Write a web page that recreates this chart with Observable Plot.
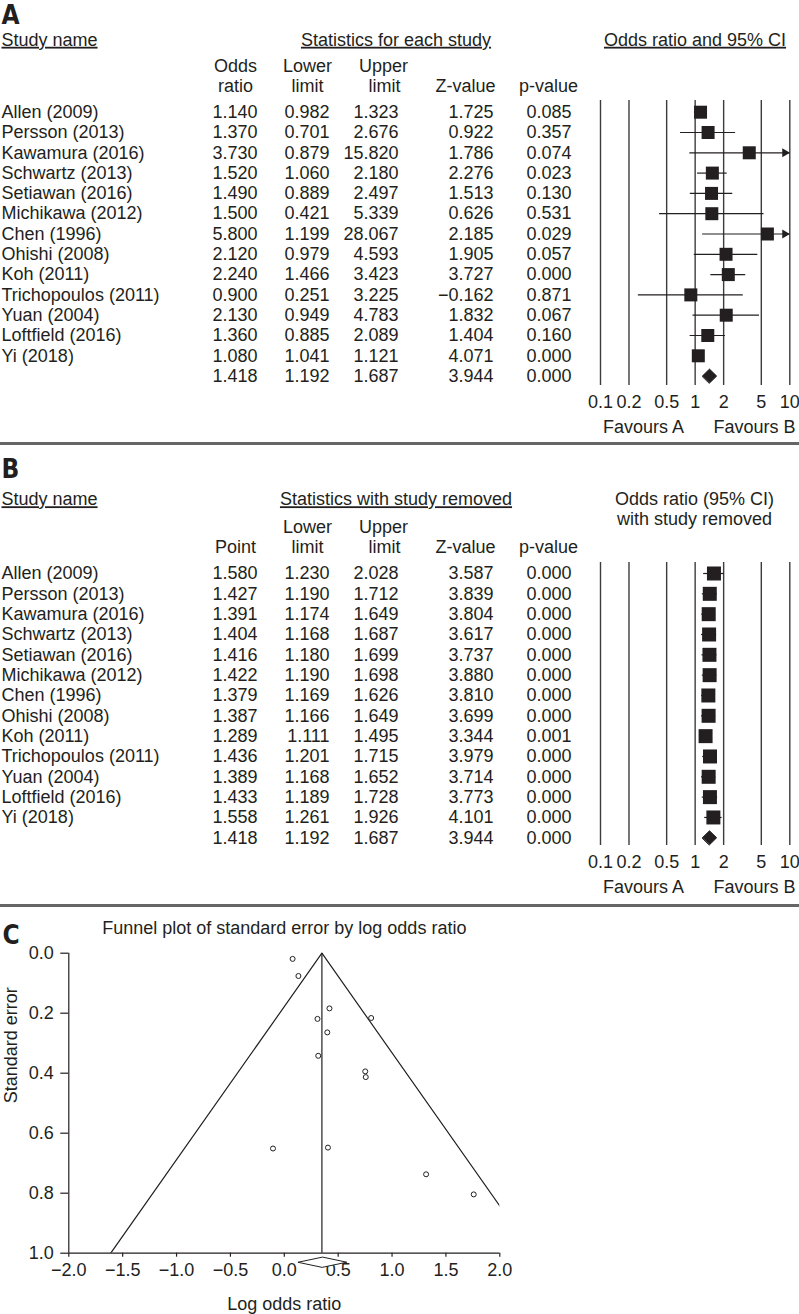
<!DOCTYPE html>
<html>
<head>
<meta charset="utf-8">
<script src="https://cdn.jsdelivr.net/npm/d3@7"></script>
<script src="https://cdn.jsdelivr.net/npm/@observablehq/plot@0.6"></script>
<style>
  body { margin: 0; background: #fff; }
  #fig { width: 799px; }
  .divider { height: 3px; background: #666; }
  svg { display: block; }
</style>
</head>
<body>
<div id="fig"></div>
<script>
// ---------------- DATA ----------------
const studies = ["Allen (2009)", "Persson (2013)", "Kawamura (2016)", "Schwartz (2013)", "Setiawan (2016)",
  "Michikawa (2012)", "Chen (1996)", "Ohishi (2008)", "Koh (2011)", "Trichopoulos (2011)",
  "Yuan (2004)", "Loftfield (2016)", "Yi (2018)"];

// Panel A: statistics for each study
const oddsA  = [1.140, 1.370, 3.730, 1.520, 1.490, 1.500, 5.800, 2.120, 2.240, 0.900, 2.130, 1.360, 1.080];
const lowerA = [0.982, 0.701, 0.879, 1.060, 0.889, 0.421, 1.199, 0.979, 1.466, 0.251, 0.949, 0.885, 1.041];
const upperA = [1.323, 2.676, 15.820, 2.180, 2.497, 5.339, 28.067, 4.593, 3.423, 3.225, 4.783, 2.089, 1.121];
const zA     = [1.725, 0.922, 1.786, 2.276, 1.513, 0.626, 2.185, 1.905, 3.727, -0.162, 1.832, 1.404, 4.071];
const pA     = [0.085, 0.357, 0.074, 0.023, 0.130, 0.531, 0.029, 0.057, 0.000, 0.871, 0.067, 0.160, 0.000];
const pooledA = [1.418, 1.192, 1.687, 3.944, 0.000];

// Panel B: statistics with study removed
const pointB = [1.580, 1.427, 1.391, 1.404, 1.416, 1.422, 1.379, 1.387, 1.289, 1.436, 1.389, 1.433, 1.558];
const lowerB = [1.230, 1.190, 1.174, 1.168, 1.180, 1.190, 1.169, 1.166, 1.111, 1.201, 1.168, 1.189, 1.261];
const upperB = [2.028, 1.712, 1.649, 1.687, 1.699, 1.698, 1.626, 1.649, 1.495, 1.715, 1.652, 1.728, 1.926];
const zB     = [3.587, 3.839, 3.804, 3.617, 3.737, 3.880, 3.810, 3.699, 3.344, 3.979, 3.714, 3.773, 4.101];
const pB     = [0.000, 0.000, 0.000, 0.000, 0.000, 0.000, 0.000, 0.000, 0.001, 0.000, 0.000, 0.000, 0.000];
const pooledB = [1.418, 1.192, 1.687, 3.944, 0.000];

const orTicks = [0.1, 0.2, 0.5, 1, 2, 5, 10];

// Panel C: funnel plot
const logOR = [0.131, 0.315, 1.316, 0.419, 0.399, 0.405, 1.758, 0.751, 0.806, -0.105, 0.756, 0.308, 0.077];
const stdErr = [0.076, 0.342, 0.737, 0.184, 0.264, 0.648, 0.804, 0.394, 0.216, 0.651, 0.413, 0.219, 0.019];
const pooledLogOR = 0.349;
const funnelLeft  = [{x: 0.349, y: 0}, {x: -1.611, y: 1}];
const funnelRight = [{x: 0.349, y: 0}, {x: 2.309, y: 1}];
const pooledDiamondC = [{x: 0.13, y: 1.03}, {x: 0.355, y: 1.013}, {x: 0.58, y: 1.03}, {x: 0.355, y: 1.047}];
const seTicks = [0, 0.2, 0.4, 0.6, 0.8, 1.0];
const lorTicks = [-2, -1.5, -1, -0.5, 0, 0.5, 1, 1.5, 2];

// ---------------- STYLE / LAYOUT ----------------
const INK = "#231f20";
const GRID = "#3c3c3c";
const FONT = "'Liberation Sans', Arial, Helvetica, sans-serif";
const NARROW = "'Liberation Sans Narrow', 'DejaVu Sans Condensed', 'Liberation Sans', sans-serif";
const FS = 18;
const LETTER_FS = 26;
const f3 = d3.format(".3f");
const f1 = d3.format(".1f");
const underlined = new Set(["Study name", "Statistics for each study", "Odds ratio and 95% CI", "Statistics with study removed"]);

const COLS = [
  {key: "est", right: 257},
  {key: "lo", right: 329},
  {key: "hi", right: 398},
  {key: "z", right: 493},
  {key: "p", right: 571}
];

function forest(cfg) {
  const {height, row0, rowH} = cfg;
  const row = px => (px - row0) / rowH;
  const n = cfg.names.length;
  const rows = cfg.names.map((name, i) => ({i, name, est: cfg.est[i], lo: cfg.lo[i], hi: cfg.hi[i], z: cfg.z[i], p: cfg.p[i]}));
  const pooled = {i: n, name: "", est: cfg.sum[0], lo: cfg.sum[1], hi: cfg.sum[2], z: cfg.sum[3], p: cfg.sum[4]};
  const table = [...rows, pooled];
  const marks = [];
  marks.push(Plot.text([cfg.letter], {text: d => d, y: row(cfg.letterY), frameAnchor: "left", textAnchor: "start",
    lineAnchor: "middle", dx: 1, fontSize: LETTER_FS, fontWeight: "bold", fontFamily: NARROW}));
  marks.push(Plot.text(rows, {text: "name", y: "i", frameAnchor: "left", textAnchor: "start", lineAnchor: "middle", dx: 1, fontSize: FS}));
  for (const c of COLS) {
    marks.push(Plot.text(table, {text: d => f3(d[c.key]), y: "i", frameAnchor: "left", textAnchor: "end", lineAnchor: "middle", dx: c.right, fontSize: FS}));
  }
  for (const h of cfg.headers) {
    marks.push(Plot.text([h.t], {text: d => d, y: row(h.y), frameAnchor: "left", textAnchor: h.a || "middle", lineAnchor: "middle", dx: h.x, fontSize: FS}));
  }
  marks.push(Plot.ruleX(orTicks, {x: d => d, y1: row(cfg.gridTop), y2: row(cfg.gridBottom), stroke: GRID, strokeWidth: 1.4}));
  marks.push(Plot.text(orTicks, {x: d => d, y: row(cfg.tickY), text: d => String(d), lineAnchor: "middle", fontSize: FS}));
  marks.push(Plot.ruleY(rows, {y: "i", x1: "lo", x2: d => Math.min(d.hi, 10), stroke: INK, strokeWidth: 1.2}));
  marks.push(Plot.dot(rows.filter(d => d.hi > 10), {x: () => 10, y: "i", symbol: "triangle", rotate: 90, r: 3.3, fill: INK, dx: -5}));
  marks.push(Plot.dot(rows, {x: "est", y: "i", symbol: "square", r: cfg.side / Math.sqrt(Math.PI), fill: INK}));
  const half = cfg.diamondHalf / rowH;
  marks.push(Plot.line([
      {x: pooled.lo, y: n}, {x: pooled.est, y: n - half}, {x: pooled.hi, y: n}, {x: pooled.est, y: n + half}
    ], {x: "x", y: "y", curve: "linear-closed", fill: INK, stroke: INK, strokeWidth: 1}));

  return Plot.plot({
    width: 799, height,
    marginTop: 0, marginRight: 0, marginBottom: 0, marginLeft: 0,
    style: {fontFamily: FONT, color: INK, background: "#fff", overflow: "visible"},
    x: {type: "log", domain: [0.1, 10], range: [600, 789.3], axis: null},
    y: {type: "linear", domain: [row(0), row(height)], range: [0, height], axis: null},
    marks
  });
}

const panelA = forest({
  letter: "A", height: 442, row0: 111.7, rowH: 20.3,
  names: studies, est: oddsA, lo: lowerA, hi: upperA, z: zA, p: pA, sum: pooledA,
  letterY: 15.2, gridTop: 100, gridBottom: 385, tickY: 401.7, side: 13, diamondHalf: 7,
  headers: [
    {t: "Study name", x: 1, y: 39.5, a: "start"},
    {t: "Statistics for each study", x: 395.5, y: 39.5},
    {t: "Odds ratio and 95% CI", x: 694.5, y: 39.5},
    {t: "Odds", x: 235, y: 65.3}, {t: "ratio", x: 235, y: 85.3},
    {t: "Lower", x: 307, y: 65.3}, {t: "limit", x: 307, y: 85.3},
    {t: "Upper", x: 383, y: 65.3}, {t: "limit", x: 384, y: 85.3},
    {t: "Z-value", x: 465, y: 85.3}, {t: "p-value", x: 548, y: 85.3},
    {t: "Favours A", x: 643, y: 426.7}, {t: "Favours B", x: 754, y: 426.7}
  ]
});

const panelB = forest({
  letter: "B", height: 459, row0: 128, rowH: 20.33,
  names: studies, est: pointB, lo: lowerB, hi: upperB, z: zB, p: pB, sum: pooledB,
  letterY: 24, gridTop: 117, gridBottom: 400, tickY: 416.7, side: 14, diamondHalf: 7,
  headers: [
    {t: "Study name", x: 1, y: 54, a: "start"},
    {t: "Statistics with study removed", x: 395.5, y: 54},
    {t: "Odds ratio (95% CI)", x: 694, y: 54},
    {t: "with study removed", x: 694, y: 74},
    {t: "Lower", x: 307, y: 82}, {t: "Upper", x: 383, y: 82},
    {t: "Point", x: 235, y: 101.5}, {t: "limit", x: 307, y: 101.5}, {t: "limit", x: 384, y: 101.5},
    {t: "Z-value", x: 465, y: 101.5}, {t: "p-value", x: 548, y: 101.5},
    {t: "Favours A", x: 643, y: 441.7}, {t: "Favours B", x: 754, y: 441.7}
  ]
});

const funnelPoints = logOR.map((x, i) => ({x, y: stdErr[i], study: studies[i]}));

const panelC = Plot.plot({
  width: 799, height: 407,
  marginLeft: 68.3, marginRight: 299.7, marginTop: 45.7, marginBottom: 61.3,
  style: {fontFamily: FONT, color: INK, background: "#fff", overflow: "visible"},
  x: {domain: [-2, 2]},
  y: {domain: [0, 1], range: [45.7, 345.7]},
  marks: [
    Plot.axisY({ticks: seTicks, tickFormat: f1, tickSize: 8, tickPadding: 7, fontSize: FS, label: null, strokeWidth: 1.2}),
    Plot.axisX({ticks: lorTicks, tickFormat: f1, tickSize: 4, tickPadding: 6, fontSize: FS, label: null, strokeWidth: 1.2}),
    Plot.ruleX([-2], {y1: 0, y2: 1, stroke: INK, strokeWidth: 1.2}),
    Plot.ruleY([1], {x1: -2, x2: 2, stroke: INK, strokeWidth: 1.2}),
    Plot.ruleX([pooledLogOR], {y1: 0, y2: 1, stroke: INK, strokeWidth: 1.2}),
    Plot.line(funnelLeft, {x: "x", y: "y", stroke: INK, strokeWidth: 1.2, clip: true}),
    Plot.line(funnelRight, {x: "x", y: "y", stroke: INK, strokeWidth: 1.2, clip: true}),
    Plot.dot(funnelPoints, {x: "x", y: "y", r: 2.5, stroke: INK, fill: "#fff", strokeWidth: 1}),
    Plot.line(pooledDiamondC, {x: "x", y: "y", curve: "linear-closed", fill: "#fff", stroke: INK, strokeWidth: 1}),
    Plot.text(["C"], {text: d => d, frameAnchor: "top-left", textAnchor: "start", lineAnchor: "middle", dx: -66.3, dy: -17.7,
      fontSize: LETTER_FS, fontWeight: "bold", fontFamily: NARROW}),
    Plot.text(["Funnel plot of standard error by log odds ratio"], {text: d => d, frameAnchor: "top", lineAnchor: "middle", dy: -24.7, fontSize: FS}),
    Plot.text(["Standard error"], {text: d => d, frameAnchor: "left", lineAnchor: "middle", rotate: -90, dx: -58, fontSize: FS}),
    Plot.text(["Log odds ratio"], {text: d => d, frameAnchor: "bottom", lineAnchor: "middle", dy: 51.3, fontSize: FS})
  ]
});

const fig = document.getElementById("fig");
function addDivider() { const d = document.createElement("div"); d.className = "divider"; fig.appendChild(d); }
for (const [i, svg] of [panelA, panelB, panelC].entries()) {
  if (i > 0) addDivider();
  svg.querySelectorAll("text").forEach(t => {
    if (underlined.has(t.textContent)) t.style.textDecoration = "underline";
  });
  fig.appendChild(svg);
}
</script>
</body>
</html>
